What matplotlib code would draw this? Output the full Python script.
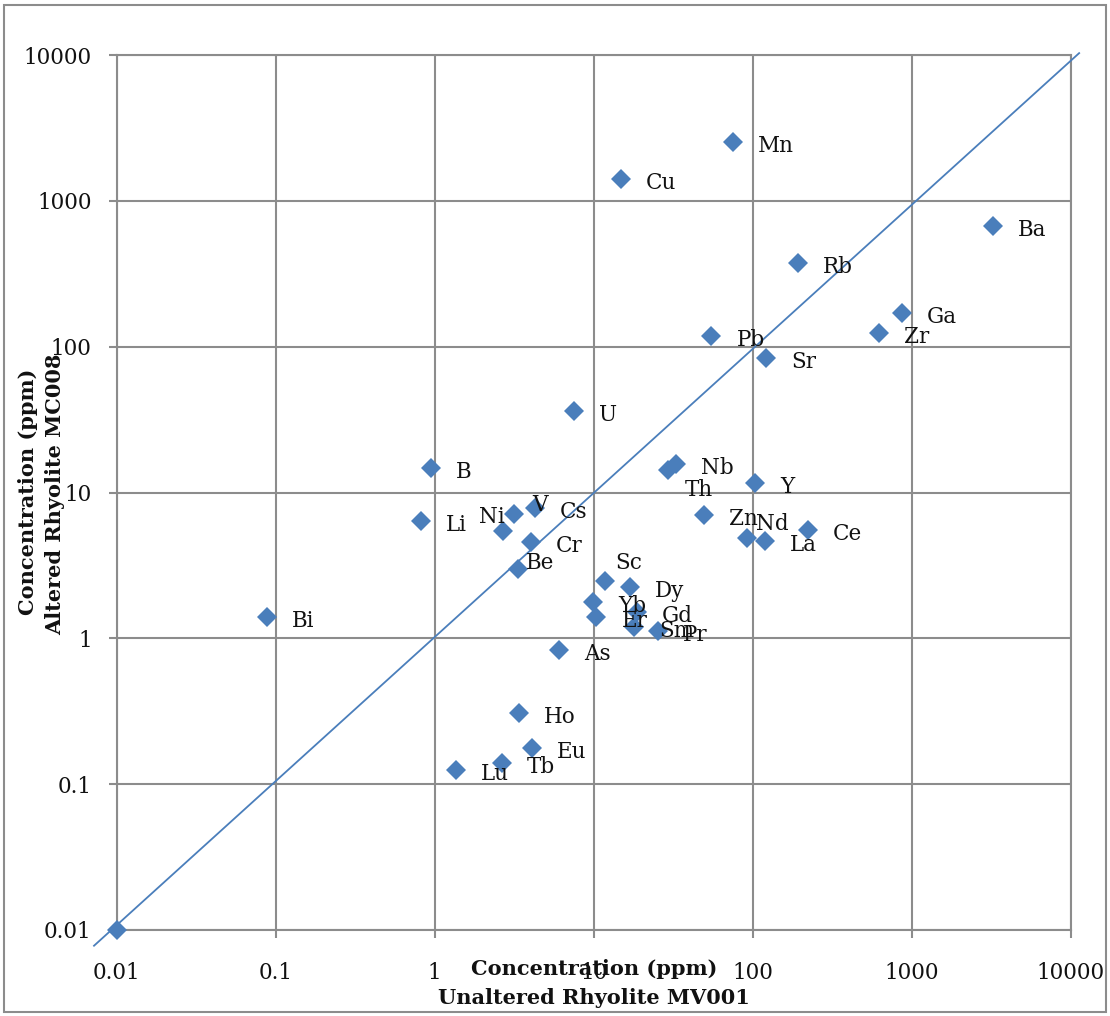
import matplotlib
matplotlib.use("Agg")
import matplotlib.pyplot as plt
from matplotlib.patches import Rectangle

# ---- data (ppm) ----
elements = ["Mn", "Cu", "Ba", "Rb", "Ga", "Zr", "Pb", "Sr", "U", "B",
            "Nb", "Th", "Y", "Li", "Ni", "V", "Cs", "Cr", "Be", "Zn",
            "Nd", "La", "Ce", "Sc", "Dy", "Yb", "Er", "Gd", "Sm", "Pr",
            "As", "Bi", "Ho", "Eu", "Tb", "Lu", ""]
unaltered_mv001 = [75, 14.9, 3250, 193, 870, 620, 55, 121, 7.5, 0.95,
                   33, 29.5, 104, 0.82, 2.7, 3.17, 4.27, 4.03, 3.36, 49.4,
                   92.5, 119, 222, 11.8, 16.9, 9.95, 10.4, 18.7, 17.9, 25.4,
                   6.05, 0.088, 3.40, 4.07, 2.64, 1.36, 0.01]
altered_mc008 = [2530, 1410, 673, 375, 170, 124, 118, 83.6, 36.2, 14.8,
                 15.7, 14.3, 11.6, 6.38, 5.47, 7.12, 7.87, 4.60, 2.97, 7.01,
                 4.90, 4.65, 5.53, 2.47, 2.26, 1.78, 1.41, 1.52, 1.20, 1.12,
                 0.83, 1.40, 0.309, 0.176, 0.140, 0.125, 0.01]
diag_x = [0.0072, 11300]
diag_y = [0.0078, 10300]
ticks = [0.01, 0.1, 1, 10, 100, 1000, 10000]
tick_labels = ["0.01", "0.1", "1", "10", "100", "1000", "10000"]

# label offsets in pixels (right, down); default: right of marker
label_offsets = {"Ni": (-24, -14), "V": (18, -9), "Be": (7, -6),
                 "Th": (16, 20), "Nd": (9, -14), "Sc": (10, -18)}

BLUE = "#4A7EBB"
GRID = "#8C8C8C"
W, H = 1110, 1016
plt.rcParams["font.family"] = ["DejaVu Serif"]

fig = plt.figure(figsize=(W / 100, H / 100), dpi=100)
ax = fig.add_axes([116.7 / W, 1 - 930 / H, (1070.7 - 116.7) / W, (930 - 55) / H])
ax.set_xscale("log")
ax.set_yscale("log")
ax.set_xlim(0.01, 10000)
ax.set_ylim(0.01, 10000)

ax.plot(diag_x, diag_y, color=BLUE, lw=1.3, clip_on=False, zorder=3)
ax.plot(unaltered_mv001, altered_mc008, linestyle="none", marker="D",
        markersize=10, color=BLUE, markeredgewidth=0, clip_on=False, zorder=4)

for name, xv, yv in zip(elements, unaltered_mv001, altered_mc008):
    if not name:
        continue
    dx, dy = label_offsets.get(name, (25, 4))
    ax.annotate(name, (xv, yv), xytext=(dx, -dy), textcoords="offset pixels",
                ha="left", va="center", fontsize=15.5, color="#111111", zorder=5)

ax.set_xticks(ticks)
ax.set_xticklabels(tick_labels)
ax.set_yticks(ticks)
ax.set_yticklabels(tick_labels)
ax.minorticks_off()
ax.tick_params(axis="both", which="major", length=6, width=1.5, color=GRID,
               labelsize=15.5, labelcolor="#111111")
ax.tick_params(axis="x", pad=17)
ax.tick_params(axis="y", pad=12)
ax.grid(True, color=GRID, lw=1.5)
ax.set_axisbelow(True)
for sp in ax.spines.values():
    sp.set_color(GRID)
    sp.set_linewidth(1.5)

fig.text(594 / W, 1 - 969 / H, "Concentration (ppm)", ha="center", va="center",
         fontsize=15, fontweight="bold", color="#111111")
fig.text(594 / W, 1 - 998 / H, "Unaltered Rhyolite MV001", ha="center", va="center",
         fontsize=15, fontweight="bold", color="#111111")
fig.text(28 / W, 1 - 492 / H, "Concentration (ppm)", ha="center", va="center",
         rotation=90, fontsize=15, fontweight="bold", color="#111111")
fig.text(55 / W, 1 - 494 / H, "Altered Rhyolite MC008", ha="center", va="center",
         rotation=90, fontsize=15, fontweight="bold", color="#111111")

fig.patches.append(Rectangle((4 / W, 1 - 1012 / H), (1106 - 4) / W, (1012 - 5) / H,
                             transform=fig.transFigure, fill=False,
                             edgecolor=GRID, lw=1.5))

fig.savefig("out.png", dpi=100)
